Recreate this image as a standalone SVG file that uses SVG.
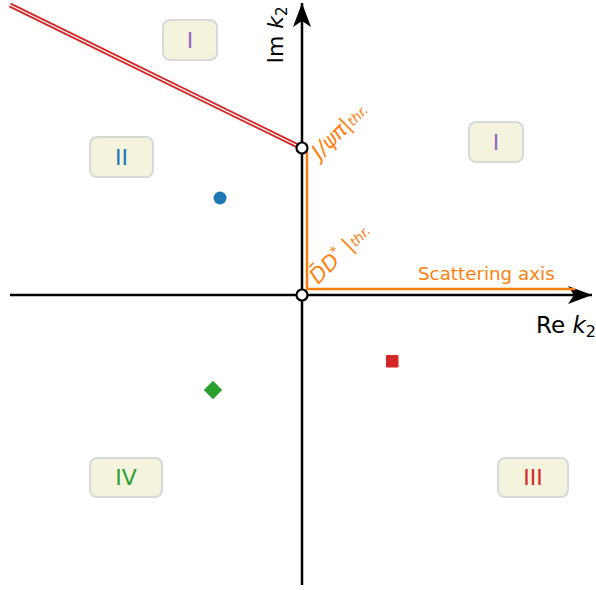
<svg xmlns="http://www.w3.org/2000/svg" width="596" height="590" viewBox="0 0 596 590">
<defs>
<marker id="arr" markerWidth="26" markerHeight="18" refX="24" refY="9" orient="auto" markerUnits="userSpaceOnUse">
<path d="M0,0 L24,9 L0,18 L6,9 Z" fill="#000"/>
</marker>
<style>
.box{fill:#f4f3de;stroke:#d8d8d8;stroke-width:2}
.lbl{font-family:"DejaVu Sans",sans-serif;font-size:22px;text-anchor:middle}
.ax{stroke:#000;stroke-width:2.5;fill:none}
.or{font-family:"DejaVu Sans",sans-serif;fill:#ff7f0e}
</style>
</defs>
<rect width="596" height="590" fill="#fff"/>
<g id="connectors">
<path d="M10,5 L298,146" stroke="#d62728" stroke-width="5" fill="none"/>
<path d="M10,5 L298,146" stroke="#fff" stroke-width="1.3" fill="none"/>
<path class="ax" d="M10,295 L592,295" marker-end="url(#arr)"/>
<path class="ax" d="M302,585 L302,3" marker-end="url(#arr)"/>
<path d="M307,152 L307,289 L575,289" stroke="#ff7f0e" stroke-width="2.5" fill="none"/>
</g>
<g id="thr1"><circle cx="302" cy="148" r="5.5" fill="#fff" stroke="#000" stroke-width="2.2"/></g>
<g id="origin"><circle cx="302" cy="295" r="5.5" fill="#fff" stroke="#000" stroke-width="2.2"/></g>
<g id="box-I-top"><rect class="box" x="163" y="20" width="54" height="40" rx="7"/><text class="lbl" x="190" y="48" fill="#9467bd">I</text></g>
<g id="box-II"><rect class="box" x="90" y="137" width="63" height="40" rx="7"/><text class="lbl" x="121.5" y="165" fill="#1f77b4">II</text></g>
<g id="box-I-right"><rect class="box" x="469" y="122" width="54" height="40" rx="7"/><text class="lbl" x="496" y="150" fill="#9467bd">I</text></g>
<g id="box-IV"><rect class="box" x="90" y="458" width="72" height="39" rx="7"/><text class="lbl" x="126" y="485" fill="#2ca02c">IV</text></g>
<g id="box-III"><rect class="box" x="498" y="458" width="70" height="39" rx="7"/><text class="lbl" x="533" y="485" fill="#d62728">III</text></g>
<g id="pole-blue"><circle cx="220" cy="198" r="6.5" fill="#1f77b4"/></g>
<g id="pole-green"><rect x="206.5" y="383.5" width="13" height="13" fill="#2ca02c" transform="rotate(45 213 390)"/></g>
<g id="pole-red"><rect x="386" y="355" width="12.5" height="12.5" rx="1" fill="#d62728"/></g>
<g id="labels">
<text x="283" y="35" font-family="DejaVu Sans,sans-serif" font-size="22" text-anchor="middle" transform="rotate(-90 283 35)">Im <tspan font-style="italic">k</tspan><tspan font-size="15" dy="4">2</tspan></text>
<text x="536" y="333" font-family="DejaVu Sans,sans-serif" font-size="23">Re <tspan font-style="italic">k</tspan><tspan font-size="16" dy="4">2</tspan></text>
<text class="or" x="418" y="280" font-size="18.3">Scattering axis</text>
<text class="or" x="320" y="160" font-size="21" transform="rotate(-45 320 160)"><tspan font-style="italic">J/ψπ</tspan>|<tspan font-size="13.5" font-style="italic">thr.</tspan></text>
<text class="or" x="318" y="285" font-size="21" transform="rotate(-45 318 285)"><tspan font-style="italic">D̄D</tspan><tspan font-size="13.5" dy="-8">*</tspan><tspan dy="8"> |</tspan><tspan font-size="13.5" font-style="italic">thr.</tspan></text>
</g>
</svg>
